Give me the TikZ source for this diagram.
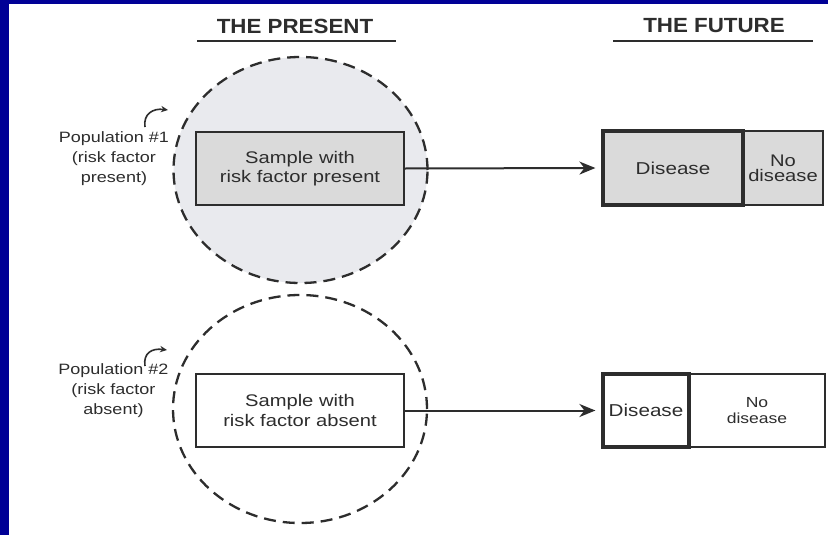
\documentclass[tikz,border=0pt]{standalone}
\usepackage{fontspec}
\setmainfont[FakeStretch=1.2]{Liberation Sans}
\newfontfamily\headfont[FakeStretch=1.09]{Liberation Sans}
\usetikzlibrary{arrows.meta,shapes.geometric}

\definecolor{frameblue}{RGB}{0,0,150}
\definecolor{ink}{RGB}{45,45,45}
\definecolor{popfill}{RGB}{233,234,238}
\definecolor{boxfill}{RGB}{218,218,218}

\begin{document}
\begin{tikzpicture}[x=0.5pt,y=-0.5pt,
  head/.style={font=\headfont\bfseries\fontsize{10.25}{12}\selectfont, text=ink, inner sep=0pt},
  rule/.style={draw=ink, line width=1pt},
  poplabel/.style={align=center, font=\fontsize{7.5}{10}\selectfont, text=ink, inner sep=0pt},
  population/.style={ellipse, draw=ink, line width=1.15pt, dash pattern=on 6pt off 3.5pt,
    inner sep=0pt, minimum width=127pt},
  samplebox/.style={rectangle, draw=ink, line width=1.2pt, minimum width=104pt,
    minimum height=36.5pt, inner sep=0pt, align=center,
    font=\fontsize{8.4}{9.65}\selectfont, text=ink},
  outcome/.style={rectangle, draw=ink, inner sep=0pt, align=center, text=ink,
    minimum height=37pt},
  thickedge/.style={line width=1.6pt},
  thinedge/.style={line width=1pt},
  link/.style={draw=ink, line width=1pt, shorten >=3pt,
    -{Stealth[length=8pt,width=6.5pt,inset=2.5pt]}},
  hook/.style={draw=ink, line width=0.8pt, -{Stealth[length=3.5pt,width=3.2pt]}}]

  % page frame: blue strip along the top and the left
  \useasboundingbox (0,0) rectangle (828,535);
  \fill[frameblue] (0,0) rectangle (828,535);
  \fill[white] (9,4) rectangle (828,535);

  % column headings
  \node[head] (present) at (295,26) {THE PRESENT};
  \node[head] (future) at (714,26) {THE FUTURE};
  \draw[rule] (197,41) -- (396,41);
  \draw[rule] (613,41) -- (813,41);

  % populations
  \node[population, fill=popfill, minimum height=113pt] (pop1) at (300.5,170) {};
  \node[population, minimum height=114pt] (pop2) at (300,409) {};

  % samples drawn from each population
  \node[samplebox, fill=boxfill] (s1) at (300,168.5) {Sample with\\risk factor present};
  \node[samplebox] (s2) at (300,410.5) {Sample with\\risk factor absent};

  % population labels with their hooked pointers
  \node[poplabel] (lab1) at (114,159) {Population \#1\\(risk factor\\present)};
  \node[poplabel] (lab2) at (113.5,391) {Population \#2\\(risk factor\\absent)};
  \coordinate (h1a) at (145,127);
  \coordinate (h1b) at (168,110);
  \coordinate (h2a) at (145,366);
  \coordinate (h2b) at (167,350);
  \draw[hook] (h1a) .. controls (143,114) and (153,108) .. (h1b);
  \draw[hook] (h2a) .. controls (143,353) and (152,348) .. (h2b);

  % outcomes in the future
  \node[outcome, thinedge, fill=boxfill, minimum width=40pt,
    font=\fontsize{8.4}{7.6}\selectfont] (n1) at (783,168) {No\\disease};
  \node[outcome, thickedge, fill=boxfill, minimum width=70pt,
    font=\fontsize{8.6}{10}\selectfont] (d1) at (673,168) {Disease};
  \node[outcome, thinedge, minimum width=68pt, minimum height=36.5pt,
    font=\fontsize{7.3}{7.9}\selectfont] (n2) at (757,410.5) {No\\disease};
  \node[outcome, thickedge, minimum width=43pt, minimum height=36.5pt,
    font=\fontsize{8.6}{10}\selectfont] (d2) at (646,410.5) {Disease};

  % follow-up arrows
  \draw[link] (s1.east) -- (d1.west);
  \draw[link] (s2.east) -- (d2.west);
\end{tikzpicture}
\end{document}
